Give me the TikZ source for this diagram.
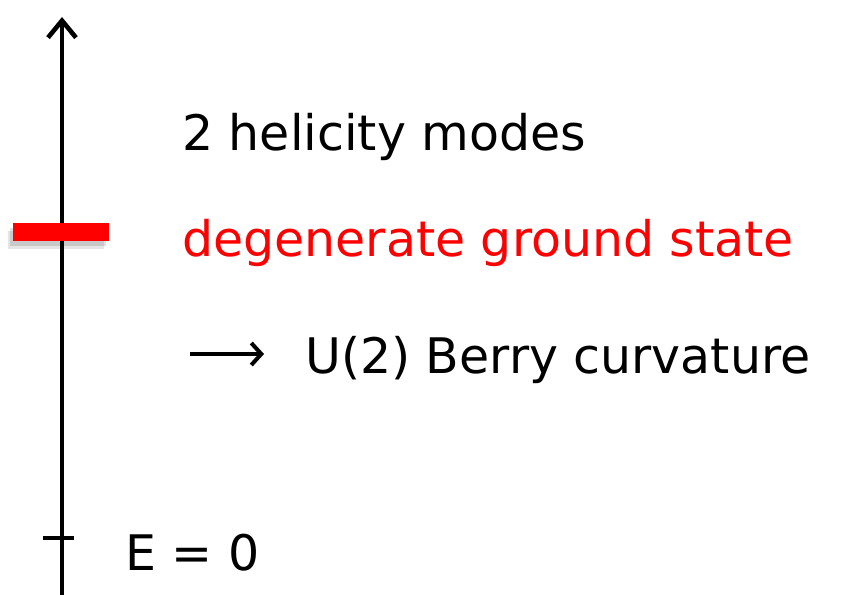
\documentclass[tikz,border=0pt]{standalone}
\usepackage{fontspec}
\setmainfont{DejaVu Sans}
\usetikzlibrary{arrows.meta,shadows}
\definecolor{lvlred}{RGB}{255,0,0}
\begin{document}
\begin{tikzpicture}[x=1pt,y=-1pt,
  axis/.style={line width=4.6pt},
  lbl/.style={anchor=base west,inner sep=0pt,font=\fontsize{49}{58}\selectfont},
  level/.style={fill=lvlred,draw=none,
    drop shadow={shadow xshift=-3pt,shadow yshift=-5pt,opacity=0.12,fill=black},
    drop shadow={shadow xshift=-5pt,shadow yshift=-8pt,opacity=0.10,fill=black}}]
\useasboundingbox (0,0) rectangle (850,594);
\coordinate (bot) at (62,596);
\coordinate (top) at (62,17);
\draw[axis,-{Straight Barb[length=17pt,width=28pt,line width=4.6pt]}] (bot) -- (top);
\coordinate (t1) at (43,538);
\coordinate (t2) at (74,538);
\draw[axis] (t1) -- (t2);
\node[level,minimum width=96pt,minimum height=18pt,inner sep=0pt] (lvl) at (61,232) {};
\node[lbl] (hel) at (182,150) {2 helicity modes};
\node[lbl,text=lvlred] (deg) at (182,256) {degenerate ground state};
\coordinate (a1) at (190,354);
\coordinate (a2) at (264,354);
\draw[line width=4pt,-{Straight Barb[length=10pt,width=22pt,line width=4pt]}] (a1) -- (a2);
\node[lbl] (berry) at (305,373) {U(2) Berry curvature};
\node[lbl] (e0) at (125,570) {E = 0};
\end{tikzpicture}
\end{document}
